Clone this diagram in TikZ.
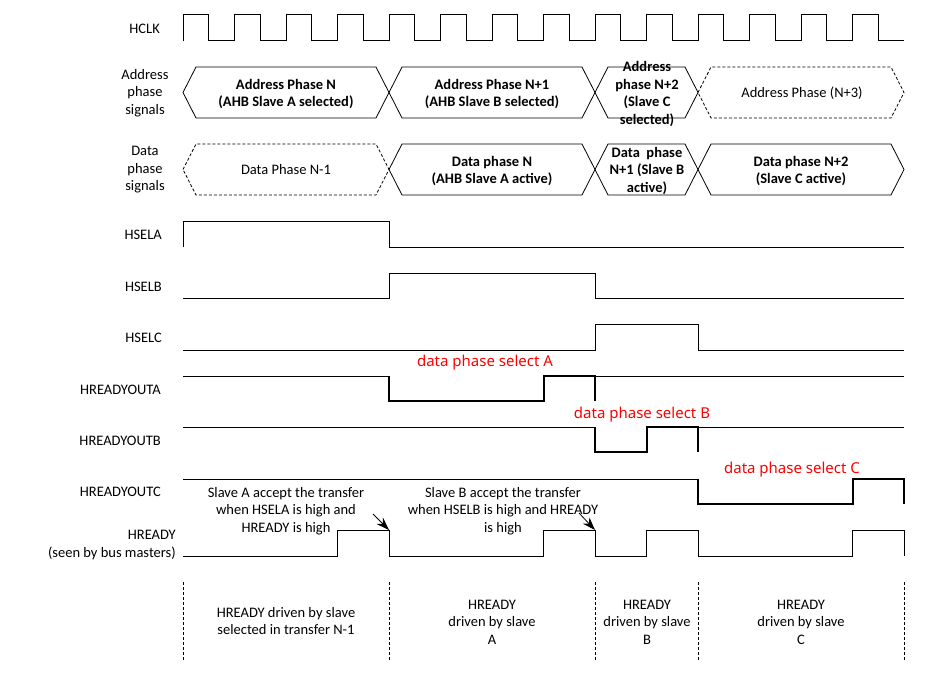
\documentclass[tikz,border=0pt]{standalone}
\usepackage{fontspec}
\setmainfont{Carlito}
\newfontfamily\notefont{Noto Sans}
\usetikzlibrary{arrows.meta}

\begin{document}
\begin{tikzpicture}[x=1pt, y=-1pt,
    sig/.style={line width=1pt},
    drv/.style={line width=2pt},
    bus/.style={line width=0.8pt, line join=miter},
    dsh/.style={dash pattern=on 3pt off 2pt},
    lbl/.style={anchor=east, align=right, inner xsep=0pt, font=\fontsize{14.5}{17.5}\selectfont},
    txt/.style={align=center, font=\fontsize{14.5}{17.5}\selectfont},
    btxt/.style={align=center, font=\bfseries\fontsize{14.5}{17.5}\selectfont},
    note/.style={text=red, font=\notefont\fontsize{15}{18}\selectfont},
    arrow/.style={-{Stealth[length=13pt,width=9pt]}, line width=0.8pt}
]
    \useasboundingbox (0,0) rectangle (948,674);

    % signal names
    \node[lbl] (hclk) at (160,29) {HCLK};
    \node[txt] (addr) at (145,93) {Address\\phase\\signals};
    \node[txt] (data) at (145,170) {Data\\phase\\signals};
    \node[lbl] (hsela) at (162,235) {HSELA};
    \node[lbl] (hselb) at (162,287) {HSELB};
    \node[lbl] (hselc) at (162,338) {HSELC};
    \node[lbl] (outa) at (161,390) {HREADYOUTA};
    \node[lbl] (outb) at (161,441) {HREADYOUTB};
    \node[lbl] (outc) at (161,492) {HREADYOUTC};
    \node[lbl] (hready) at (176,545) {HREADY\\(seen by bus masters)};

    % clock
    \draw[sig] (183,41) \foreach \k in {0,...,13} { -- ++(0,-26) -- ++(25.75,0) -- ++(0,26) -- ++(25.75,0) };

    % address and data phases
    \foreach \a/\b/\c/\s in {183/389/92.5/solid, 389/595/92.5/solid, 595/698/92.5/solid, 698/904/92.5/dsh,
                            183/389/169.5/dsh, 389/595/169.5/solid, 595/698/169.5/solid, 698/904/169.5/solid}
        \draw[bus, \s] (\a,\c) -- (\a+13,\c-25.5) -- (\b-13,\c-25.5) -- (\b,\c)
            -- (\b-13,\c+25.5) -- (\a+13,\c+25.5) -- cycle;

    \node[btxt] (apn) at (286,94) {Address Phase N\\(AHB Slave A selected)};
    \node[btxt] (apn1) at (492,94) {Address Phase N+1\\(AHB Slave B selected)};
    \node[btxt] (apn2) at (647,94) {Address\\phase N+2\\(Slave C\\selected)};
    \node[txt] (apn3) at (802,93) {Address Phase (N+3)};
    \node[txt] (dpn0) at (286,170) {Data Phase N-1};
    \node[btxt] (dpn) at (492,171) {Data phase N\\(AHB Slave A active)};
    \node[btxt] (dpn1) at (647,171) {Data\ \ phase\\N+1 (Slave B\\active)};
    \node[btxt] (dpn2) at (801,171) {Data phase N+2\\(Slave C active)};

    % select signals
    \draw[sig] (183,247) -- (183,221) -- (389,221) -- (389,247) -- (904,247);
    \draw[sig] (183,298) -- (389,298) -- (389,273) -- (595,273) -- (595,298) -- (904,298);
    \draw[sig] (183,350) -- (595,350) -- (595,324) -- (698,324) -- (698,350) -- (904,350);

    % ready outputs
    \draw[sig] (183,376) -- (389,376);
    \draw[drv] (389,376) -- (389,401) -- (543.5,401) -- (543.5,376) -- (595,376) -- (595,401);
    \draw[sig] (595,376) -- (904,376);
    \draw[sig] (183,427) -- (595,427);
    \draw[drv] (595,427) -- (595,452) -- (646.5,452) -- (646.5,427) -- (698,427) -- (698,452);
    \draw[sig] (698,427) -- (904,427);
    \draw[sig] (183,479) -- (698,479);
    \draw[drv] (698,479) -- (698,504) -- (852.5,504) -- (852.5,479) -- (904,479) -- (904,504);

    \node[note] (sela) at (485,363) {data phase select A};
    \node[note] (selb) at (642,415) {data phase select B};
    \node[note] (selc) at (792,470) {data phase select C};

    % HREADY
    \draw[sig] (183,556) -- (337.5,556) -- (337.5,530) -- (389,530) -- (389,556) -- (543.5,556) -- (543.5,530)
        -- (595,530) -- (595,556) -- (646.5,556) -- (646.5,530) -- (698,530) -- (698,556) -- (852.5,556)
        -- (852.5,530) -- (904,530) -- (904,556);

    \node[txt] (acca) at (286,511) {Slave A accept the transfer\\when HSELA is high and\\HREADY is high};
    \node[txt] (accb) at (503,511) {Slave B accept the transfer\\when HSELB is high and HREADY\\is high};
    \coordinate (ta) at (373,514);
    \coordinate (ea) at (389,530);
    \coordinate (tb) at (579,513);
    \coordinate (eb) at (595,530);
    \draw[arrow] (ta) -- (ea);
    \draw[arrow] (tb) -- (eb);

    % who drives HREADY
    \foreach \x in {183,389,595,698,904}
        \draw[line width=0.6pt, dsh] (\x,582) -- (\x,660);
    \node[txt] (drv0) at (286,621) {HREADY driven by slave\\selected in transfer N-1};
    \node[txt] (drva) at (492,622) {HREADY\\driven by slave\\A};
    \node[txt] (drvb) at (647,622) {HREADY\\driven by slave\\B};
    \node[txt] (drvc) at (801,622) {HREADY\\driven by slave\\C};
\end{tikzpicture}
\end{document}
